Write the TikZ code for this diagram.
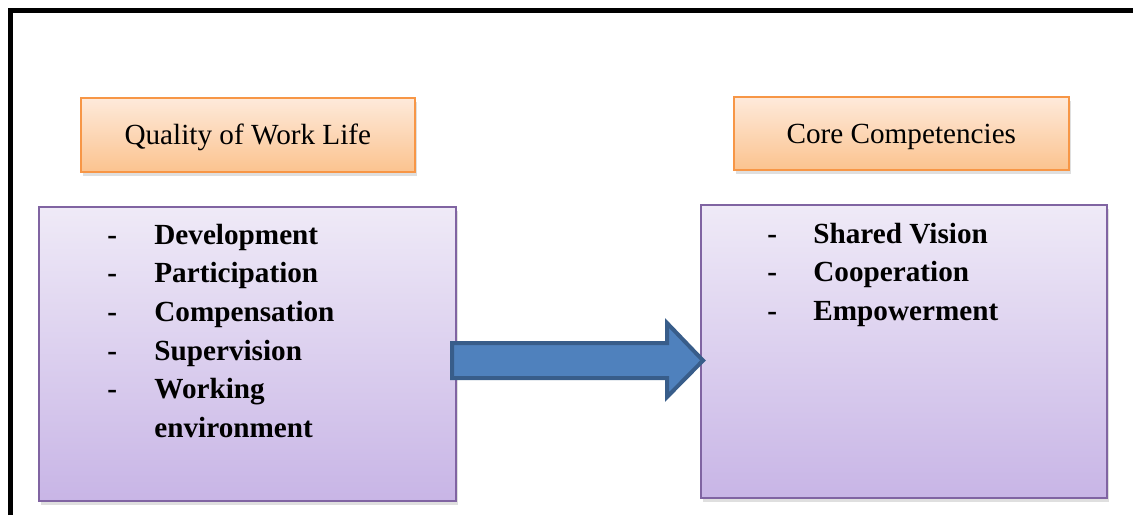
\documentclass[tikz,border=0pt]{standalone}
\usepackage{fontspec}
\setmainfont{Liberation Serif}
\usepackage{tikz}
\usetikzlibrary{shadows}

\definecolor{headtop}{HTML}{FEEADB}
\definecolor{headbot}{HTML}{FBC38F}
\definecolor{headline}{HTML}{F79646}
\definecolor{listtop}{HTML}{EFEAF7}
\definecolor{listbot}{HTML}{C8B5E6}
\definecolor{listline}{HTML}{8064A2}
\definecolor{arrowfill}{HTML}{4F81BD}
\definecolor{arrowline}{HTML}{385D8A}

\begin{document}
\begin{tikzpicture}[
    x=0.5pt, y=-0.5pt,
    headbox/.style={draw=headline, line width=0.8pt, top color=headtop, bottom color=headbot,
        anchor=north west, inner sep=0pt, text height=10pt, text depth=0pt,
        font=\fontsize{14.6}{17}\selectfont,
        drop shadow={shadow xshift=1.2pt, shadow yshift=-2pt, opacity=0.25}},
    listbox/.style={draw=listline, line width=0.8pt, top color=listtop, bottom color=listbot,
        anchor=north west, inner sep=0pt,
        drop shadow={shadow xshift=1.2pt, shadow yshift=-2pt, opacity=0.25}},
    items/.style={anchor=base west, inner sep=0pt, font=\fontsize{14.6}{19.35}\selectfont\bfseries},
    bigarrow/.style={draw=arrowline, line width=2pt, fill=arrowfill, line join=miter}
]
\useasboundingbox (0,0) rectangle (1133,515);

% outer frame, only top and left inside the page
\draw[line width=2.6pt] (10.5,515) -- (10.5,10.5) -- (1133,10.5);

% headings
\node[headbox, minimum width=167pt, minimum height=37pt] (qwlhead) at (80,97) {Quality of Work Life};
\node[headbox, minimum width=167.5pt, minimum height=36.5pt] (cchead) at (733,96) {Core Competencies};

% boxes with the lists
\node[listbox, minimum width=208.5pt, minimum height=147pt] (qwlbox) at (38,206) {};
\node[listbox, minimum width=203pt, minimum height=146.5pt] (ccbox) at (700,204) {};

\node[items] (qwlitems) at (107,244) {\begin{tabular}[t]{@{}p{23.5pt}@{}l@{}}
-&Development\\
-&Participation\\
-&Compensation\\
-&Supervision\\
-&Working\\
 &environment
\end{tabular}};
\node[items] (ccitems) at (767,243) {\begin{tabular}[t]{@{}p{23pt}@{}l@{}}
-&Shared Vision\\
-&Cooperation\\
-&Empowerment
\end{tabular}};

% block arrow between the two boxes
\coordinate (tail) at (452,360.5);
\coordinate (tip) at (703,360.5);
\draw[bigarrow] (tail) ++(0,-17.5) -- ++(215,0) -- ++(0,-20) -- (tip)
    -- ++(-36,36.5) -- ++(0,-19) -- ++(-215,0) -- cycle;
\end{tikzpicture}
\end{document}
